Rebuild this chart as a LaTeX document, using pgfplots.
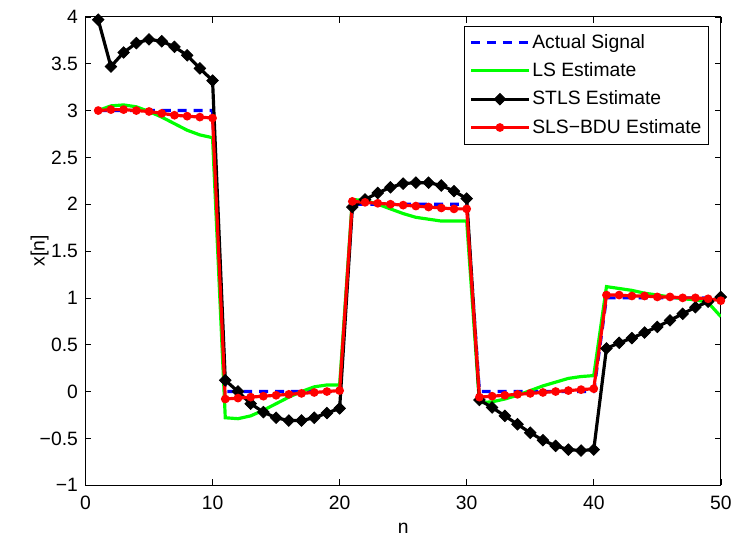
\documentclass[border=0pt]{standalone}
\usepackage{pgfplots}
\pgfplotsset{compat=1.18}
\usepackage{fontspec}
\setmainfont{Liberation Sans}
\begin{document}
\fontsize{19.5}{23}\selectfont
\begin{tikzpicture}
\begin{axis}[
  scale only axis,
  width=639bp, height=471bp,
  xmin=0, xmax=50, ymin=-1, ymax=4,
  xtick={0,10,20,30,40,50},
  ytick={-1,-0.5,0,0.5,1,1.5,2,2.5,3,3.5,4},
  yticklabels={−1,−0.5,0,0.5,1,1.5,2,2.5,3,3.5,4},
  tick align=inside,
  major tick length=6bp,
  tick style={black, line width=0.6bp},
  axis line style={line width=0.8bp},
  /pgf/number format/assume math mode=true,
  tick label style={font=\fontsize{19.5}{23}\selectfont},
  xticklabel style={yshift=-4bp},
  yticklabel style={xshift=-1bp},
  label style={font=\fontsize{19.5}{23}\selectfont},
  xlabel={n},
  ylabel={x[n]},
  xlabel style={at={(axis description cs:0.5,-0.093)}, anchor=center},
  ylabel style={at={(axis description cs:-0.072,0.5)}, anchor=center},
  legend style={at={(0.981,0.981)}, anchor=north east, draw=black, line width=0.8bp,
    font=\fontsize{19.5}{23}\selectfont, row sep=7.5bp, inner xsep=5bp, inner ysep=6bp},
  legend cell align=left,
  legend image code/.code={\draw[mark repeat=2,mark phase=2,#1] plot coordinates {(0bp,0bp) (29bp,0bp) (58bp,0bp)};},
]
\addplot[blue, line width=3.2bp, dash pattern=on 9bp off 7bp] coordinates {
(1,3)(2,3)(3,3)(4,3)(5,3)(6,3)(7,3)(8,3)(9,3)(10,3)
(11,0)(12,0)(13,0)(14,0)(15,0)(16,0)(17,0)(18,0)(19,0)(20,0)
(21,2)(22,2)(23,2)(24,2)(25,2)(26,2)(27,2)(28,2)(29,2)(30,2)
(31,0)(32,0)(33,0)(34,0)(35,0)(36,0)(37,0)(38,0)(39,0)(40,0)
(41,1)(42,1)(43,1)(44,1)(45,1)(46,1)(47,1)(48,1)(49,1)(50,1)};
\addlegendentry{Actual Signal}
\addplot[green, line width=3.2bp] coordinates {
(1,3.00)(2,3.05)(3,3.06)(4,3.04)(5,2.99)(6,2.93)(7,2.86)(8,2.79)(9,2.74)(10,2.71)
(11,-0.28)(12,-0.29)(13,-0.26)(14,-0.20)(15,-0.13)(16,-0.06)(17,0.00)(18,0.05)(19,0.07)(20,0.07)
(21,2.05)(22,2.04)(23,2.00)(24,1.95)(25,1.90)(26,1.86)(27,1.84)(28,1.82)(29,1.82)(30,1.82)
(31,-0.12)(32,-0.11)(33,-0.08)(34,-0.04)(35,0.01)(36,0.06)(37,0.10)(38,0.14)(39,0.16)(40,0.17)
(41,1.12)(42,1.10)(43,1.08)(44,1.05)(45,1.03)(46,1.01)(47,0.99)(48,0.98)(49,0.95)(50,0.80)};
\addlegendentry{LS Estimate}
\addplot[black, line width=3.2bp, mark=square*, mark size=4.1bp,
  mark options={rotate=45, solid, fill=black, line width=0.8bp}] coordinates {
(1,3.97)(2,3.47)(3,3.62)(4,3.72)(5,3.76)(6,3.74)(7,3.68)(8,3.59)(9,3.45)(10,3.32)
(11,0.12)(12,0.00)(13,-0.13)(14,-0.22)(15,-0.28)(16,-0.31)(17,-0.31)(18,-0.28)(19,-0.23)(20,-0.18)
(21,1.97)(22,2.05)(23,2.12)(24,2.18)(25,2.22)(26,2.23)(27,2.23)(28,2.20)(29,2.14)(30,2.06)
(31,-0.09)(32,-0.17)(33,-0.26)(34,-0.35)(35,-0.44)(36,-0.52)(37,-0.58)(38,-0.62)(39,-0.63)(40,-0.62)
(41,0.46)(42,0.52)(43,0.57)(44,0.63)(45,0.69)(46,0.76)(47,0.83)(48,0.90)(49,0.96)(50,1.01)};
\addlegendentry{STLS Estimate}
\addplot[red, line width=3.2bp, mark=*, mark size=2.7bp, mark options={solid, fill=red}] coordinates {
(1,3.00)(2,3.01)(3,3.01)(4,3.00)(5,2.99)(6,2.97)(7,2.95)(8,2.94)(9,2.93)(10,2.92)
(11,-0.08)(12,-0.07)(13,-0.06)(14,-0.05)(15,-0.04)(16,-0.03)(17,-0.02)(18,-0.01)(19,0.00)(20,0.01)
(21,2.03)(22,2.02)(23,2.01)(24,2.00)(25,1.99)(26,1.98)(27,1.97)(28,1.96)(29,1.95)(30,1.95)
(31,-0.06)(32,-0.05)(33,-0.04)(34,-0.03)(35,-0.02)(36,-0.01)(37,0.00)(38,0.01)(39,0.02)(40,0.03)
(41,1.03)(42,1.03)(43,1.02)(44,1.02)(45,1.01)(46,1.01)(47,1.00)(48,1.00)(49,0.99)(50,0.97)};
\addlegendentry{SLS−BDU Estimate}
\end{axis}
\path (current axis.south west) ++(-86bp,-52bp) coordinate (bbA);
\path (current axis.north east) ++(13bp,17bp) coordinate (bbB);
\useasboundingbox (bbA) rectangle (bbB);
\end{tikzpicture}
\end{document}
